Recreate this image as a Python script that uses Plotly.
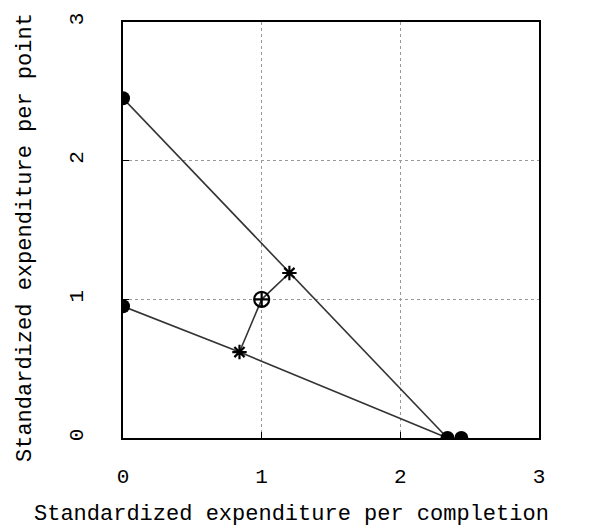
import plotly.graph_objects as go

# Data
line_a_x = [0, 1.20, 2.34]
line_a_y = [2.45, 1.19, 0]
line_b_x = [0, 0.84, 2.34]
line_b_y = [0.95, 0.62, 0]
link_x = [0.84, 1.0, 1.20]
link_y = [0.62, 1.0, 1.19]
dots_x = [0, 0, 2.34, 2.44]
dots_y = [2.45, 0.95, 0, 0]
stars_x = [1.20, 0.84]
stars_y = [1.19, 0.62]
center_x = [1.0]
center_y = [1.0]
ticks = [0, 1, 2, 3]
x_title = "Standardized expenditure per completion"
y_title = "Standardized expenditure per point"

FONT = "Liberation Mono"
LC = "#333333"

fig = go.Figure()
for xs, ys in [(line_a_x, line_a_y), (line_b_x, line_b_y), (link_x, link_y)]:
    fig.add_trace(go.Scatter(x=xs, y=ys, mode="lines",
                             line=dict(color=LC, width=1.6), hoverinfo="skip"))
fig.add_trace(go.Scatter(x=dots_x, y=dots_y, mode="markers",
                         marker=dict(symbol="circle", size=14, color="black")))
fig.add_trace(go.Scatter(x=stars_x, y=stars_y, mode="markers",
                         marker=dict(symbol="asterisk-open", size=12, color="black",
                                     line=dict(color="black", width=2.2))))
fig.add_trace(go.Scatter(x=center_x, y=center_y, mode="markers",
                         marker=dict(symbol="circle-cross-open", size=15, color="black",
                                     line=dict(color="black", width=2.2))))

axis_common = dict(
    range=[0, 3], tickvals=ticks, ticktext=[str(t) for t in ticks],
    showgrid=True, gridcolor="#999999", griddash="dot", gridwidth=1,
    zeroline=False, showline=True, linecolor="black", linewidth=1.5, mirror=True,
    ticks="inside", ticklen=6, tickcolor="black", tickwidth=1,
    tickfont=dict(family=FONT, size=21, color="black"),
)

fig.update_layout(
    width=591, height=531,
    margin=dict(l=123, r=52, t=22, b=93),
    paper_bgcolor="white", plot_bgcolor="white",
    showlegend=False,
    xaxis=dict(**axis_common, ticklabelstandoff=18),
    yaxis=dict(**axis_common, tickangle=-90, ticklabelstandoff=30),
    annotations=[
        dict(text=x_title, xref="paper", yref="paper", x=0.406, y=0,
             xanchor="center", yanchor="middle", yshift=-76, showarrow=False,
             font=dict(family=FONT, size=22, color="black")),
        dict(text=y_title, xref="paper", yref="paper", x=0, y=0.5,
             xanchor="center", yanchor="middle", xshift=-98, yshift=-8,
             textangle=-90, showarrow=False,
             font=dict(family=FONT, size=22, color="black")),
    ],
)

fig.write_html("out.html")
